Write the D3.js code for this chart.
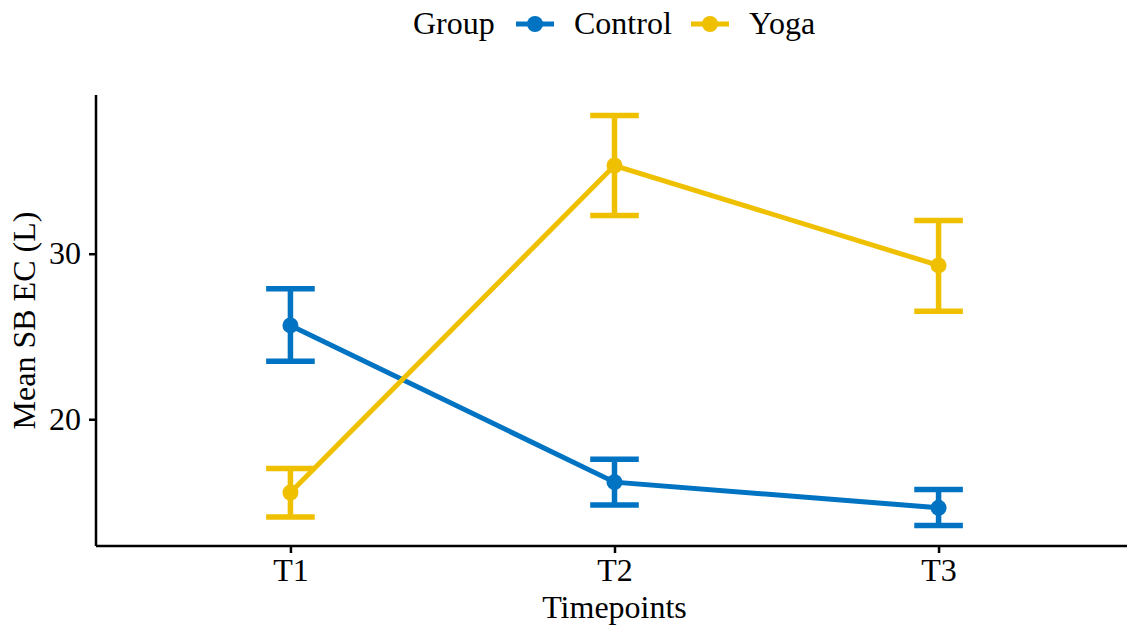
<!DOCTYPE html>
<html>
<head>
<meta charset="utf-8">
<script src="https://cdn.jsdelivr.net/npm/d3@7"></script>
<style>
  body { margin: 0; background: #fff; }
  text { font-family: "Liberation Serif", "Times New Roman", serif; fill: #000; }
</style>
</head>
<body>
<svg id="chart"></svg>
<script>
// Data
const timepoints = ['T1', 'T2', 'T3'];
const groups = ['Control', 'Yoga'];
const groupColors = ['#0073C2', '#EFC000'];
const controlMean = [25.67, 16.2, 14.65];
const controlLow  = [23.5, 14.82, 13.58];
const controlHigh = [27.89, 17.59, 15.76];
const yogaMean = [15.57, 35.33, 29.29];
const yogaLow  = [14.1, 32.31, 26.52];
const yogaHigh = [17.03, 38.35, 32.01];
const yTicks = [20, 30];

const series = [
  { name: groups[0], color: groupColors[0], mean: controlMean, lo: controlLow, hi: controlHigh },
  { name: groups[1], color: groupColors[1], mean: yogaMean, lo: yogaLow, hi: yogaHigh }
];

const totalW = 1127, totalH = 630;
const mg = { top: 95, right: -6, bottom: 84, left: 96 };
const W = totalW - mg.left - mg.right;
const H = totalH - mg.top - mg.bottom;
const fs = '32px';

const svg = d3.select('#chart').attr('width', totalW).attr('height', totalH);
const g = svg.append('g').attr('transform', `translate(${mg.left},${mg.top})`);

// discrete x like ggplot: positions 1..n, expanded by 0.6
const x = d3.scaleLinear().domain([0.4, timepoints.length + 0.6]).range([0, W]);
const allVals = series.flatMap((s) => s.lo.concat(s.hi));
const yMin = d3.min(allVals), yMax = d3.max(allVals);
const pad = (yMax - yMin) * 0.05;
const y = d3.scaleLinear().domain([yMin - pad, yMax + pad]).range([H, 0]);

// axes
const xAxis = d3.axisBottom(x).tickValues(timepoints.map((d, i) => i + 1))
  .tickFormat((d) => timepoints[d - 1]).tickSize(7).tickPadding(5);
const gx = g.append('g').attr('transform', `translate(0,${H})`).call(xAxis);
const yAxis = d3.axisLeft(y).tickValues(yTicks).tickSize(7).tickPadding(8);
const gy = g.append('g').call(yAxis);
[gx, gy].forEach((a) => {
  a.select('.domain').attr('stroke', '#000').attr('stroke-width', 2.5);
  a.selectAll('.tick line').attr('stroke', '#000').attr('stroke-width', 2.5);
  a.selectAll('.tick text').style('font-size', fs).style('font-family', '"Liberation Serif", serif');
});
gx.select('.domain').attr('d', `M0,0H${W}`);
gy.select('.domain').attr('d', `M0,${H}V0`);

// axis titles
svg.append('text').attr('x', mg.left + x(2)).attr('y', 618)
  .attr('text-anchor', 'middle').style('font-size', fs).text('Timepoints');
svg.append('text').attr('transform', `translate(35,${mg.top + H / 2}) rotate(-90)`)
  .attr('text-anchor', 'middle').style('font-size', fs).text('Mean SB EC (L)');

// error bars, lines, points
const capHalf = (x(1.075) - x(1));
series.forEach((s) => {
  const eb = g.append('g').attr('stroke', s.color).attr('stroke-width', 5.5).attr('fill', 'none');
  s.mean.forEach((m, i) => {
    const cx = x(i + 1);
    eb.append('line').attr('x1', cx).attr('x2', cx).attr('y1', y(s.lo[i])).attr('y2', y(s.hi[i]));
    eb.append('line').attr('x1', cx - capHalf).attr('x2', cx + capHalf).attr('y1', y(s.lo[i])).attr('y2', y(s.lo[i]));
    eb.append('line').attr('x1', cx - capHalf).attr('x2', cx + capHalf).attr('y1', y(s.hi[i])).attr('y2', y(s.hi[i]));
  });
  const line = d3.line().x((d, i) => x(i + 1)).y((d) => y(d));
  g.append('path').datum(s.mean).attr('d', line)
    .attr('fill', 'none').attr('stroke', s.color).attr('stroke-width', 5);
  g.selectAll(null).data(s.mean).enter().append('circle')
    .attr('cx', (d, i) => x(i + 1)).attr('cy', (d) => y(d)).attr('r', 8)
    .attr('fill', s.color);
});

// legend
const lg = svg.append('g');
lg.append('text').attr('x', 413).attr('y', 34).style('font-size', fs).text('Group');
const keyX = [516, 691];
series.forEach((s, i) => {
  const k = lg.append('g').attr('transform', `translate(${keyX[i]},24)`);
  k.append('line').attr('x1', 0).attr('x2', 38).attr('y1', 0).attr('y2', 0)
    .attr('stroke', s.color).attr('stroke-width', 5);
  k.append('circle').attr('cx', 19).attr('cy', 0).attr('r', 8).attr('fill', s.color);
  lg.append('text').attr('x', keyX[i] + 58).attr('y', 34).style('font-size', fs).text(s.name);
});
</script>
</body>
</html>
